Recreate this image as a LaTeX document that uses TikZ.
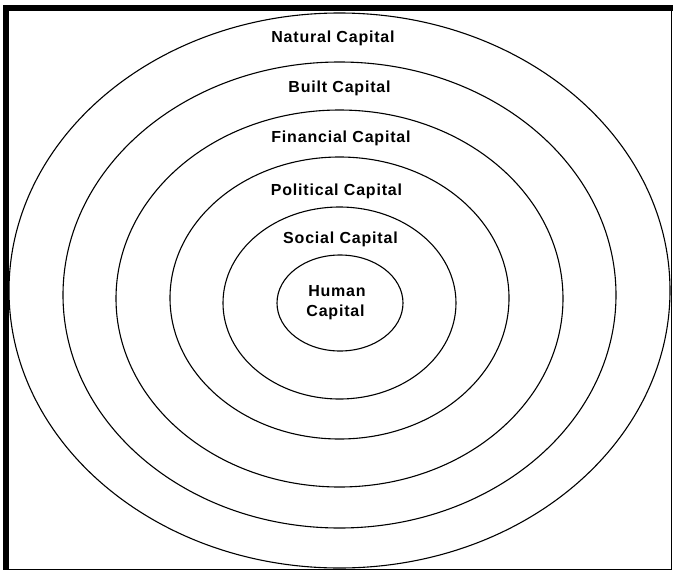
\documentclass[tikz,border=0pt]{standalone}
\usepackage{fontspec}
\newfontfamily\lblfont{Liberation Sans}[LetterSpace=5]
\tikzset{
  ring/.style={draw=black, line width=1.1pt},
  lbl/.style={anchor=base, inner sep=0pt, font=\lblfont\bfseries\fontsize{16}{20}\selectfont},
  framefill/.style={fill=black, draw=none}
}
\begin{document}
\begin{tikzpicture}[x=1pt,y=1pt]
\useasboundingbox (0,0) rectangle (673,-571);
% frame
\fill[framefill] (3,-5) rectangle (8.7,-570);
\fill[framefill] (3,-5) rectangle (673,-10.7);
\draw[line width=1.2pt] (671.5,-10.7) -- (671.5,-569.6) -- (3,-569.6);
% rings
\draw[ring] (339.5,-290.5) ellipse [x radius=330.5, y radius=277.5];
\draw[ring] (339.5,-295) ellipse [x radius=276.5, y radius=233];
\draw[ring] (339.5,-298.5) ellipse [x radius=223.5, y radius=188.5];
\draw[ring] (339.5,-298) ellipse [x radius=169.5, y radius=141];
\draw[ring] (339.5,-303) ellipse [x radius=116.5, y radius=96];
\draw[ring] (340,-303) ellipse [x radius=63, y radius=48];
% labels
\node[lbl] (natural) at (333,-42) {Natural Capital};
\node[lbl] (built) at (339.5,-92) {Built Capital};
\node[lbl] (financial) at (341,-142) {Financial Capital};
\node[lbl] (political) at (336.5,-195) {Political Capital};
\node[lbl] (social) at (340.5,-243) {Social Capital};
\node[lbl] (human) at (337,-296) {Human};
\node[lbl] (humancap) at (335.5,-316) {Capital};
\end{tikzpicture}
\end{document}
